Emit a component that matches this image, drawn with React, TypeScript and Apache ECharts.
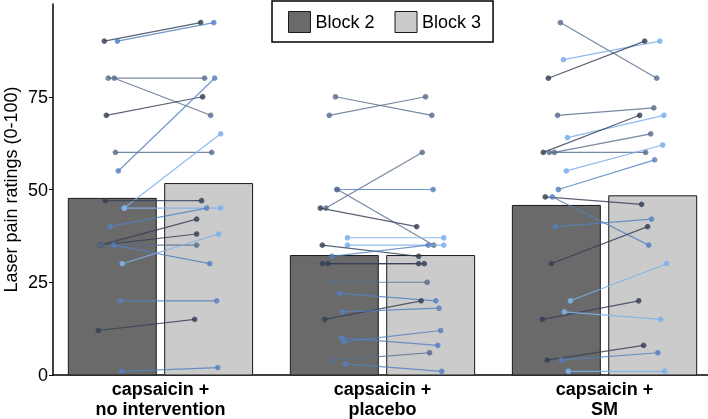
import React, { useEffect, useRef } from "react";
import * as echarts from "echarts";

// ---- data ----
const CATEGORIES = ["capsaicin +\nno intervention", "capsaicin +\nplacebo", "capsaicin +\nSM"];
const BLOCK2_MEANS = [47.6, 32.2, 45.7];
const BLOCK3_MEANS = [51.6, 32.2, 48.3];
const Y_TICKS = [0, 25, 50, 75];

// per-participant ratings (Block 2 -> Block 3), horizontal jitter (axis units) and colour shade
const NOINT_B2 = [90, 90, 80, 80, 70, 55, 60, 45, 47, 45, 40, 35, 35, 35, 35, 30, 20, 12, 1];
const NOINT_B3 = [95, 95, 80, 70, 75, 80, 60, 65, 47, 45, 45, 42, 38, 35, 30, 38, 20, 15, 2];
const NOINT_JIT = [-0.036, 0.023, -0.018, 0.009, -0.027, 0.027, 0.014, 0.054, -0.032, 0.054, -0.009, -0.054, -0.054, -0.054, 0.005, 0.045, 0.036, -0.063, 0.041];
const NOINT_SHADE = [0, 2, 1, 1, 0, 2, 1, 3, 0, 3, 2, 0, 0, 1, 2, 3, 2, 0, 2];

const PLAC_B2 = [75, 70, 45, 50, 50, 45, 37, 35, 35, 32, 30, 30, 25, 22, 15, 17, 10, 9, 4, 3];
const PLAC_B3 = [70, 75, 60, 50, 35, 40, 37, 35, 32, 35, 30, 30, 25, 20, 20, 18, 8, 12, 6, 1];
const PLAC_JIT = [0.005, -0.023, -0.038, 0.011, 0.014, -0.063, 0.059, 0.059, -0.054, -0.011, -0.054, -0.029, -0.016, 0.023, -0.043, 0.038, 0.032, 0.045, -0.005, 0.05];
const PLAC_SHADE = [1, 1, 1, 2, 1, 0, 3, 3, 0, 2, 0, 0, 1, 2, 0, 2, 2, 2, 1, 2];

const SM_B2 = [95, 85, 80, 70, 64, 60, 60, 60, 55, 50, 48, 48, 40, 30, 20, 15, 17, 4, 4, 1];
const SM_B3 = [80, 90, 90, 72, 70, 70, 60, 65, 62, 58, 46, 35, 42, 40, 30, 20, 15, 8, 6, 1];
const SM_JIT = [0.018, 0.032, -0.036, 0.005, 0.05, -0.059, -0.032, -0.009, 0.045, 0.009, -0.05, -0.018, -0.005, -0.023, 0.063, -0.063, 0.036, -0.041, 0.023, 0.054];
const SM_SHADE = [1, 3, 0, 1, 3, 0, 1, 1, 3, 2, 0, 2, 2, 0, 3, 0, 3, 0, 2, 3];

// ---- styling / layout constants ----
const FONT = "'Liberation Sans', Arial, Helvetica, sans-serif";
const BAR_W = 0.396;
const OFFSET = 0.217;
const SHADES = [
  "rgba(52,64,86,0.82)",
  "rgba(88,108,140,0.82)",
  "rgba(84,128,192,0.82)",
  "rgba(128,176,236,0.88)",
];
const B2_COLOR = "#6a6a6a";
const B3_COLOR = "#cbcbcb";

function buildPairs() {
  const groups = [
    [NOINT_B2, NOINT_B3, NOINT_JIT, NOINT_SHADE],
    [PLAC_B2, PLAC_B3, PLAC_JIT, PLAC_SHADE],
    [SM_B2, SM_B3, SM_JIT, SM_SHADE],
  ];
  const out: number[][] = [];
  groups.forEach((g, gi) => {
    const [b2, b3, jit, shade] = g;
    b2.forEach((v, i) => {
      const c = gi + 1;
      out.push([c - OFFSET + jit[i], v, c + OFFSET + jit[i], b3[i], shade[i]]);
    });
  });
  return out;
}

function barSeries(name: string, values: number[], sign: number, fill: string) {
  return {
    name,
    type: "custom",
    itemStyle: { color: fill, borderColor: "#1a1a1a", borderWidth: 1 },
    encode: { x: 0, y: 1 },
    data: values.map((v, i) => [i + 1, v]),
    renderItem: (params: any, api: any) => {
      const c = api.value(0) + sign * OFFSET;
      const tl = api.coord([c - BAR_W / 2, api.value(1)]);
      const br = api.coord([c + BAR_W / 2, 0]);
      return {
        type: "rect",
        shape: { x: tl[0], y: tl[1], width: br[0] - tl[0], height: br[1] - tl[1] },
        style: { fill, stroke: "#1a1a1a", lineWidth: 1 },
      };
    },
  };
}

export default function App() {
  const ref = useRef<HTMLDivElement>(null);
  useEffect(() => {
    if (!ref.current) return;
    const chart = echarts.init(ref.current, undefined, { renderer: "svg" });
    const pairs = buildPairs();
    chart.setOption({
      animation: false,
      textStyle: { fontFamily: FONT },
      grid: { left: 53, right: 0, top: 4, bottom: 44, outerBoundsMode: "none", containLabel: false },
      legend: {
        left: 272,
        top: 1,
        padding: [10, 12, 9, 16],
        itemWidth: 22,
        itemHeight: 21,
        itemGap: 20,
        borderColor: "#000",
        borderWidth: 1.5,
        textStyle: { fontSize: 18, color: "#000", fontFamily: FONT, padding: [0, 0, 0, 0] },
        data: [
          { name: "Block 2", icon: "rect", itemStyle: { color: B2_COLOR, borderColor: "#1a1a1a", borderWidth: 1 } },
          { name: "Block 3", icon: "rect", itemStyle: { color: B3_COLOR, borderColor: "#1a1a1a", borderWidth: 1 } },
        ],
        selectedMode: false,
      },
      xAxis: {
        type: "value",
        min: 0.516,
        max: 3.466,
        splitLine: { show: false },
        axisLine: { show: true, lineStyle: { color: "#000", width: 1.5 } },
        axisTick: { show: false },
        axisLabel: {
          customValues: [1, 2, 3],
          formatter: (v: number) => CATEGORIES[Math.round(v) - 1] ?? "",
          fontSize: 18,
          fontWeight: "bold",
          color: "#000",
          lineHeight: 20,
          margin: 4,
          fontFamily: FONT,
        },
      },
      yAxis: {
        type: "value",
        min: 0,
        max: 100,
        name: "Laser pain ratings (0-100)",
        nameLocation: "middle",
        nameGap: 33,
        nameMoveOverlap: false,
        nameTextStyle: { fontSize: 18, lineHeight: 18, color: "#000", fontFamily: FONT },
        splitLine: { show: false },
        axisLine: { show: true, lineStyle: { color: "#000", width: 1.5 } },
        axisTick: { show: true, length: 4, customValues: Y_TICKS, lineStyle: { color: "#000", width: 1 } },
        axisLabel: {
          customValues: Y_TICKS,
          fontSize: 18,
          color: "#000",
          margin: 5,
          fontFamily: FONT,
        },
      },
      series: [
        barSeries("Block 2", BLOCK2_MEANS, -1, B2_COLOR),
        barSeries("Block 3", BLOCK3_MEANS, 1, B3_COLOR),
        {
          name: "pairs",
          type: "custom",
          encode: { x: [0, 2], y: [1, 3] },
          data: pairs,
          renderItem: (params: any, api: any) => {
            const a = api.coord([api.value(0), api.value(1)]);
            const b = api.coord([api.value(2), api.value(3)]);
            const color = SHADES[api.value(4)] || SHADES[1];
            return {
              type: "group",
              children: [
                { type: "line", shape: { x1: a[0], y1: a[1], x2: b[0], y2: b[1] }, style: { stroke: color, lineWidth: 1.2 } },
                { type: "circle", shape: { cx: a[0], cy: a[1], r: 2.8 }, style: { fill: color } },
                { type: "circle", shape: { cx: b[0], cy: b[1], r: 2.8 }, style: { fill: color } },
              ],
            };
          },
        },
      ],
    });
    return () => chart.dispose();
  }, []);
  return <div ref={ref} style={{ position: "fixed", left: 0, top: 0, width: 708, height: 419 }} />;
}
